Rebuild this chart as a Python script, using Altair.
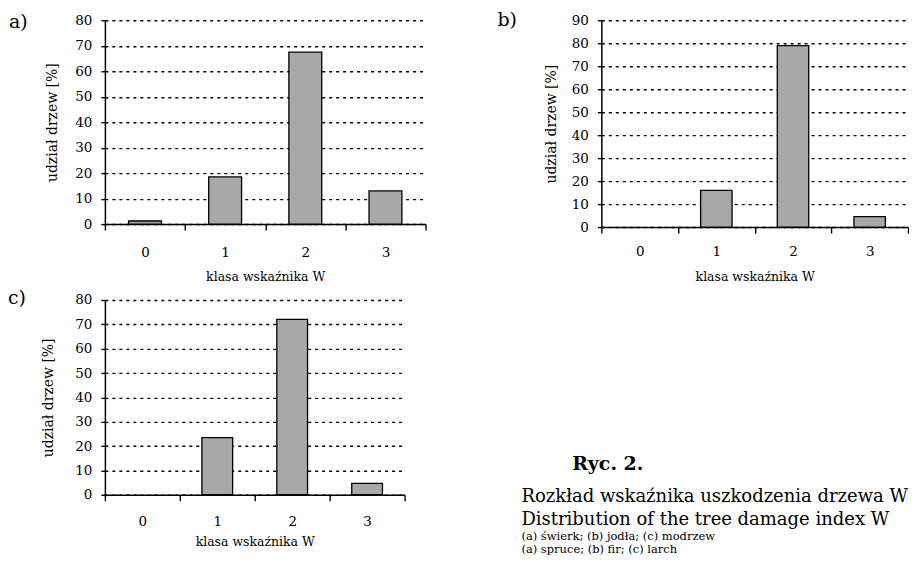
import altair as alt
import pandas as pd

# ---- data ----
classes = ["0", "1", "2", "3"]
spruce = [1.2, 18.5, 67.5, 13.0]   # a) świerk
fir = [0.0, 16.0, 79.0, 4.5]       # b) jodła
larch = [0.0, 23.5, 72.0, 4.7]     # c) modrzew
y_title = "udział drzew [%]"
x_title = "klasa wskaźnika W"
panel_labels = ["a)", "b)", "c)"]
caption_head = "Ryc. 2."
caption_big = ["Rozkład wskaźnika uszkodzenia drzewa W",
               "Distribution of the tree damage index W"]
caption_small = ["(a) świerk; (b) jodła; (c) modrzew",
                 "(a) spruce; (b) fir; (c) larch"]

FONT = "DejaVu Serif"
BAR_FILL = "#a8a8a8"


def panel(values, label, ymax, width, height, lab_x, lab_y,
          xlabel_pad, xtitle_pad, ytitle_pad):
    df = pd.DataFrame({"klasa": classes, "udzial": values})
    bars = (
        alt.Chart(df)
        .transform_filter("datum.udzial > 0")
        .mark_bar(width=alt.RelativeBandSize(0.41), fill=BAR_FILL,
                  stroke="black", strokeWidth=1.3)
        .encode(
            x=alt.X("klasa:N",
                    scale=alt.Scale(domain=classes, paddingInner=0, paddingOuter=0),
                    axis=alt.Axis(title=x_title, labelAngle=0, tickBand="extent",
                                  tickSize=6, labelPadding=xlabel_pad,
                                  titleFontSize=12.5,
                                  titlePadding=xtitle_pad, grid=False)),
            y=alt.Y("udzial:Q",
                    scale=alt.Scale(domain=[0, ymax], nice=False),
                    axis=alt.Axis(title=y_title, values=list(range(0, ymax + 1, 10)),
                                  tickSize=4, labelPadding=9,
                                  titlePadding=ytitle_pad, grid=True,
                                  gridDash=[3, 4], gridColor="black",
                                  gridWidth=1.4, gridOpacity=1)),
        )
    )
    tag = (
        alt.Chart(pd.DataFrame({"t": [label]}))
        .mark_text(align="left", baseline="middle", font=FONT, fontSize=19,
                   color="black")
        .encode(text="t:N", x=alt.value(lab_x), y=alt.value(lab_y))
    )
    return alt.layer(bars, tag).properties(width=width, height=height)


a = panel(spruce, panel_labels[0], 80, 321, 204, -96, 2, 15, 12, 15)
b = panel(fir, panel_labels[1], 90, 307, 207, -104, 0, 11, 13, 13)
c_base = panel(larch, panel_labels[2], 80, 300, 195, -97, -2, 14, 7.5, 19)

head = (
    alt.Chart(pd.DataFrame({"t": [caption_head]}))
    .mark_text(align="left", baseline="alphabetic", font=FONT, fontSize=19,
               fontWeight="bold", color="black")
    .encode(text="t:N", x=alt.value(468), y=alt.value(170))
)
big = (
    alt.Chart(pd.DataFrame({"t": ["\n".join(caption_big)]}))
    .mark_text(align="left", baseline="alphabetic", font=FONT, fontSize=18,
               lineBreak="\n", lineHeight=23, color="black")
    .encode(text="t:N", x=alt.value(417), y=alt.value(202))
)
small = (
    alt.Chart(pd.DataFrame({"t": ["\n".join(caption_small)]}))
    .mark_text(align="left", baseline="alphabetic", font=FONT, fontSize=11.5,
               lineBreak="\n", lineHeight=13.5, color="black")
    .encode(text="t:N", x=alt.value(417), y=alt.value(240))
)
c = alt.layer(c_base, head, big, small)

chart = (
    alt.vconcat(alt.hconcat(a, b, spacing=71), c, spacing=6)
    .properties(padding={"top": 3, "left": 0, "right": 0, "bottom": 0})
    .configure_view(stroke=None)
    .configure_axis(
        labelFont=FONT, labelFontSize=13.5, labelColor="black",
        titleFont=FONT, titleFontSize=14, titleFontWeight="normal",
        titleColor="black", tickColor="black", tickWidth=1.4,
        domainColor="black", domainWidth=1.5,
    )
    .configure_text(font=FONT)
)

chart.save("out.html", embed_options={"renderer": "svg", "actions": False})
